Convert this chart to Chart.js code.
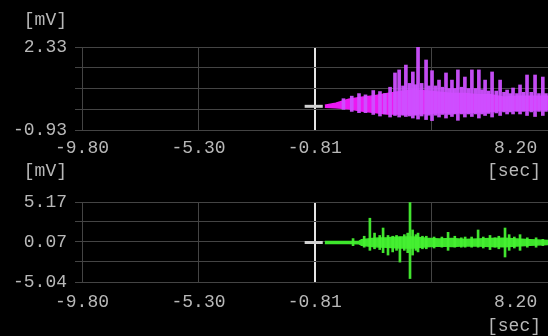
<!DOCTYPE html>
<html><head><meta charset="utf-8">
<script src="https://cdn.jsdelivr.net/npm/chart.js@4/dist/chart.umd.min.js"></script>
<style>
html,body{margin:0;padding:0;background:#000;width:548px;height:336px;overflow:hidden}
#c1{position:absolute;left:0;top:0}
#c2{position:absolute;left:0;top:160px}
</style></head><body>
<canvas id="c1" width="548" height="190"></canvas>
<canvas id="c2" width="548" height="176"></canvas>
<script>
// ---- axis ticks ----
const xTickValues = [-9.8, -5.3, -0.81, 3.7, 8.2];
const xTickLabels = ['-9.80', '-5.30', '-0.81', '', '8.20'];
const markerTime = -0.81;

const topYTicks = [-0.93, -0.115, 0.70, 1.515, 2.33];
const topYLabels = ['-0.93', '', '', '', '2.33'];
const botYTicks = [-5.04, -2.485, 0.07, 2.62, 5.17];
const botYLabels = ['-5.04', '', '0.07', '', '5.17'];

// ---- zero marker dash ----
const markerT = [-1.2, -0.5];
const markerV = [0, 0];

// ---- top channel (magenta) : dense core envelope ----
const magEnvT  = [-0.42, 0.0, 0.5, 1.0, 1.5, 2.0, 2.5, 3.0, 3.5, 4.0, 4.5, 5.0, 5.5, 6.0, 6.5, 7.0, 7.5, 8.2];
const magEnvHi = [0.04, 0.12, 0.28, 0.36, 0.42, 0.5, 0.58, 0.64, 0.6, 0.55, 0.5, 0.5, 0.45, 0.45, 0.36, 0.4, 0.4, 0.4];
const magEnvLo = [-0.04, -0.06, -0.1, -0.18, -0.24, -0.3, -0.3, -0.3, -0.28, -0.25, -0.25, -0.25, -0.22, -0.2, -0.15, -0.15, -0.15, -0.12];
// ---- top channel spikes ----
const magSpikeT = [0.3, 0.62, 0.9, 1.15, 1.45, 1.71, 1.9, 2.1, 2.29, 2.45,
                   2.6, 2.71, 2.85, 2.98, 3.08, 3.18, 3.32, 3.49, 3.6, 3.72,
                   3.86, 3.99, 4.12, 4.26, 4.38, 4.49, 4.6, 4.72, 4.86, 4.99,
                   5.12, 5.26, 5.4, 5.53, 5.65, 5.77, 5.9, 6.04, 6.2, 6.35,
                   6.5, 6.62, 6.74, 6.85, 7.0, 7.12, 7.25, 7.39, 7.55, 7.70,
                   7.85, 8.0, 8.12];
const magSpikeHi = [0.3, 0.4, 0.5, 0.45, 0.62, 0.58, 0.5, 0.75, 1.31, 1.43,
                    0.8, 1.62, 0.9, 1.35, 0.85, 2.33, 0.9, 1.82, 0.8, 1.4,
                    0.8, 1.03, 0.75, 1.31, 0.7, 1.03, 0.7, 1.43, 0.75, 1.15,
                    0.7, 1.43, 0.7, 1.43, 0.65, 1.03, 0.6, 1.35, 0.6, 1.03,
                    0.55, 0.64, 0.5, 0.72, 0.5, 0.84, 0.55, 1.23, 0.55, 1.23,
                    0.5, 1.15, 0.5];
const magSpikeLo = [-0.12, -0.2, -0.25, -0.25, -0.32, -0.38, -0.3, -0.42, -0.36, -0.42,
                    -0.35, -0.4, -0.38, -0.46, -0.35, -0.5, -0.38, -0.52, -0.35, -0.56,
                    -0.35, -0.42, -0.32, -0.46, -0.32, -0.4, -0.3, -0.55, -0.3, -0.42,
                    -0.3, -0.4, -0.3, -0.46, -0.3, -0.36, -0.28, -0.42, -0.26, -0.36,
                    -0.22, -0.3, -0.22, -0.3, -0.2, -0.3, -0.2, -0.36, -0.22, -0.4,
                    -0.2, -0.36, -0.2];

// ---- bottom channel (green) : core envelope ----
const grnEnvT  = [-0.42, 0.5, 0.9, 1.0, 1.5, 2.0, 2.5, 3.0, 3.5, 4.0, 4.5, 5.0, 5.5, 6.0, 6.5, 7.0, 7.5, 8.2];
const grnEnvHi = [0.12, 0.14, 0.16, 0.35, 0.55, 0.6, 0.7, 0.7, 0.55, 0.45, 0.5, 0.4, 0.45, 0.5, 0.55, 0.45, 0.35, 0.25];
const grnEnvLo = [-0.12, -0.14, -0.16, -0.35, -0.55, -0.6, -0.7, -0.7, -0.55, -0.45, -0.5, -0.4, -0.45, -0.5, -0.55, -0.45, -0.35, -0.25];
// ---- bottom channel spikes ----
const grnSpikeT = [0.67, 1.1, 1.32, 1.5, 1.7, 1.83, 2.02, 2.2, 2.35, 2.48,
                   2.65, 2.78, 2.87, 2.97, 3.1, 3.18, 3.35, 3.5, 3.8, 4.1,
                   4.34, 4.6, 4.85, 5.0, 5.25, 5.5, 5.7, 5.96, 6.15, 6.3,
                   6.54, 6.7, 6.9, 7.12, 7.4, 7.74, 8.0];
const grnSpikeHi = [0.5, 0.8, 3.1, 1.2, 0.9, 1.85, 0.9, 0.8, 0.9, 0.7,
                    1.0, 1.2, 5.1, 1.6, 1.0, 1.2, 0.8, 0.8, 0.7, 0.7,
                    1.3, 0.8, 0.6, 0.7, 0.7, 1.6, 0.7, 0.9, 0.6, 0.8,
                    1.85, 1.0, 0.7, 1.0, 0.6, 0.6, 0.4];
const grnSpikeLo = [-0.4, -0.6, -1.0, -0.8, -0.9, -1.3, -1.6, -1.2, -1.0, -2.5,
                    -1.0, -1.3, -4.6, -1.6, -1.0, -1.2, -0.8, -0.8, -0.7, -0.6,
                    -1.0, -0.6, -0.6, -0.6, -0.6, -0.6, -0.7, -0.9, -0.6, -0.8,
                    -1.85, -1.0, -0.7, -1.0, -0.6, -0.6, -0.4];

// ---- styling ----
const TEXT = '#b8b8b8';
const GRID = '#444444';
const FONT = {family: '"Liberation Mono", "DejaVu Sans Mono", monospace', size: 18};

const pts = (xs, ys) => xs.map((x, i) => ({x: x, y: ys[i]}));
const bars = (xs, lo, hi) => xs.map((x, i) => ({x: x, y: [lo[i], hi[i]]}));

const unitPlugin = {
  id: 'units',
  afterDraw(chart, args, o) {
    const ctx = chart.ctx;
    ctx.save();
    ctx.font = FONT.size + 'px ' + FONT.family;
    ctx.fillStyle = TEXT;
    ctx.textBaseline = 'middle';
    ctx.textAlign = 'right';
    ctx.fillText('[mV]', o.yx, o.yy);
    ctx.fillText('[sec]', o.sx, o.sy);
    ctx.restore();
  }
};

function makeChart(id, cfg) {
  const isMarker = c => c.tick && Math.abs(c.tick.value - markerTime) < 1e-6;
  return new Chart(document.getElementById(id), {
    type: 'line',
    data: {
      datasets: [
        {type: 'bar', data: bars(cfg.spT, cfg.spLo, cfg.spHi), backgroundColor: cfg.spikeColor,
         barThickness: cfg.spikeWidth, order: 0},
        {data: pts(cfg.envT, cfg.envHi), borderColor: cfg.coreColor, backgroundColor: cfg.coreColor,
         borderWidth: 1.5, pointRadius: 0, fill: '+1', order: 1},
        {data: pts(cfg.envT, cfg.envLo), borderColor: cfg.coreColor, borderWidth: 1.5, pointRadius: 0,
         fill: false, order: 1},
        {data: pts(markerT, markerV), borderColor: '#d0d0d0', borderWidth: 3, pointRadius: 0,
         fill: false, order: 2}
      ]
    },
    options: {
      responsive: false,
      animation: false,
      events: [],
      layout: {padding: {top: cfg.padTop, left: 0, right: 0, bottom: 0}},
      plugins: {legend: {display: false}, tooltip: {enabled: false},
        units: {yx: 67, yy: cfg.unitY, sx: 541, sy: cfg.secY}},
      scales: {
        x: {
          type: 'linear', min: -9.8, max: 8.2, offset: false,
          afterBuildTicks: s => { s.ticks = xTickValues.map(v => ({value: v})); },
          afterFit: s => { s.height = cfg.xHeight; s.paddingLeft = 0; s.paddingRight = 0; },
          ticks: {
            autoSkip: false, maxRotation: 0, minRotation: 0, padding: cfg.xPad,
            color: TEXT, font: FONT,
            callback: (v, i) => i === xTickLabels.length - 1 ? xTickLabels[i] + '      ' : xTickLabels[i]
          },
          grid: {
            offset: false, drawTicks: false,
            color: c => isMarker(c) ? '#e4e4e4' : GRID,
            lineWidth: c => isMarker(c) ? 2 : 1
          },
          border: {display: false}
        },
        y: {
          min: cfg.yMin, max: cfg.yMax,
          afterBuildTicks: s => { s.ticks = cfg.yTicks.map(v => ({value: v})); },
          afterFit: s => { s.width = 82; s.paddingTop = 0; s.paddingBottom = 0; },
          ticks: {autoSkip: false, padding: 8, color: TEXT, font: FONT,
            callback: (v, i) => cfg.yLabels[i]},
          grid: {color: GRID, tickLength: 7, drawTicks: true},
          border: {display: false}
        }
      }
    },
    plugins: [unitPlugin]
  });
}

makeChart('c1', {
  envT: magEnvT, envHi: magEnvHi, envLo: magEnvLo,
  spT: magSpikeT, spHi: magSpikeHi, spLo: magSpikeLo,
  coreColor: '#ec18f2', spikeColor: 'rgba(205,80,255,0.95)', spikeWidth: 3,
  yMin: -0.93, yMax: 2.33, yTicks: topYTicks, yLabels: topYLabels,
  padTop: 47, xHeight: 60, xPad: 7, unitY: 20.5, secY: 171
});
makeChart('c2', {
  envT: grnEnvT, envHi: grnEnvHi, envLo: grnEnvLo,
  spT: grnSpikeT, spHi: grnSpikeHi, spLo: grnSpikeLo,
  coreColor: '#3ee62c', spikeColor: 'rgba(70,240,50,0.95)', spikeWidth: 2,
  yMin: -5.04, yMax: 5.17, yTicks: botYTicks, yLabels: botYLabels,
  padTop: 42, xHeight: 54, xPad: 9, unitY: 11.5, secY: 166
});
</script>
</body></html>
